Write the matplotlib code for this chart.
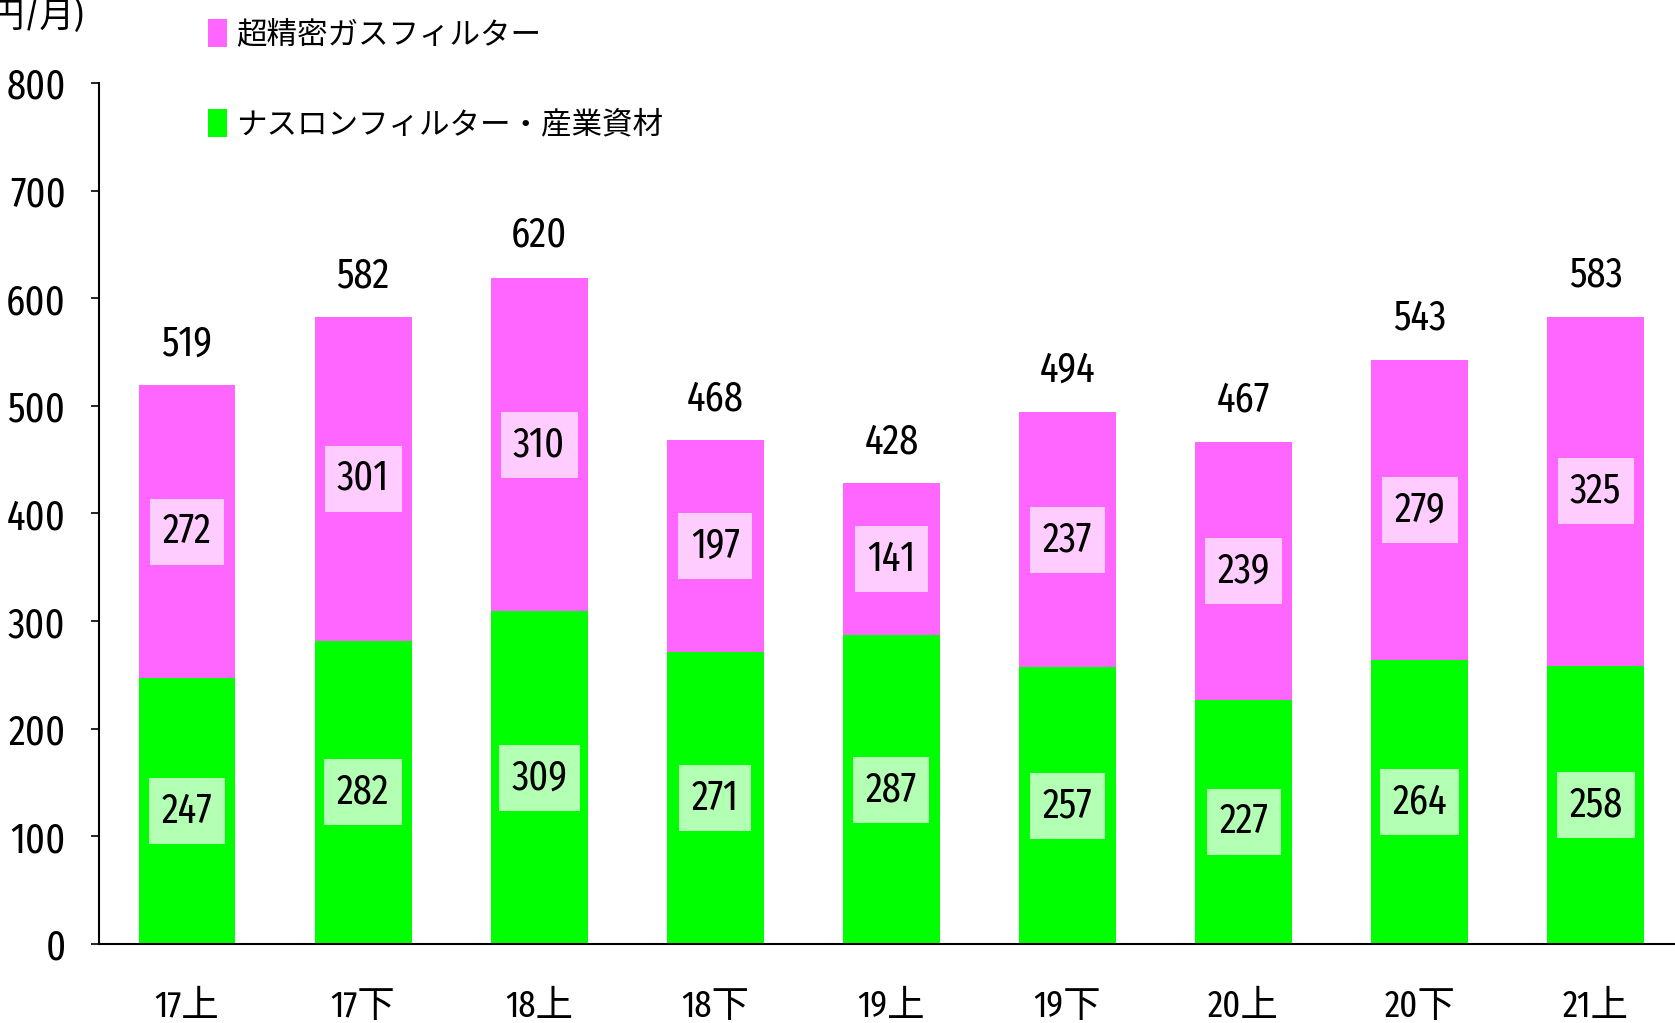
import matplotlib
matplotlib.use("Agg")
import matplotlib.pyplot as plt
from matplotlib import font_manager
import numpy as np

installed = {f.name for f in font_manager.fontManager.ttflist}
latin = next((n for n in ['Fira Sans Extra Condensed', 'Roboto Condensed', 'Barlow Condensed',
                          'Archivo Narrow', 'Liberation Sans'] if n in installed), 'DejaVu Sans')
plt.rcParams['font.family'] = [latin, 'Noto Sans CJK JP', 'DejaVu Sans']

categories = ["17上", "17下", "18上", "18下", "19上", "19下", "20上", "20下", "21上"]
nasuron = [247, 282, 309, 271, 287, 257, 227, 264, 258]
gas = [272, 301, 310, 197, 141, 237, 239, 279, 325]
totals = [519, 582, 620, 468, 428, 494, 467, 543, 583]
series_names = ["超精密ガスフィルター", "ナスロンフィルター・産業資材"]
yticks = [0, 100, 200, 300, 400, 500, 600, 700, 800]

green = "#00FF00"
pink = "#FF66FF"

fig = plt.figure(figsize=(16.75, 10.23), dpi=100)
ax = fig.add_axes([0.0591, 0.0772, 0.9409, 0.8417])

x = np.arange(len(categories))
w = 0.55
b1 = ax.bar(x, nasuron, w, color=green, label=series_names[1], zorder=2)
b2 = ax.bar(x, gas, w, bottom=nasuron, color=pink, label=series_names[0], zorder=2)

fs = 30
for i in range(len(x)):
    ax.text(x[i], nasuron[i] / 2, str(nasuron[i]), ha='center', va='center', fontsize=fs,
            bbox=dict(boxstyle='square,pad=0.3', fc='#B3FFB3', ec='none'), zorder=3)
    ax.text(x[i], nasuron[i] + gas[i] / 2, str(gas[i]), ha='center', va='center', fontsize=fs,
            bbox=dict(boxstyle='square,pad=0.3', fc='#FFCCFF', ec='none'), zorder=3)
    ax.annotate(str(totals[i]), (x[i], totals[i]), xytext=(0, 30), textcoords='offset points',
                ha='center', va='center', fontsize=fs)

ax.set_xlim(-0.5, 8.45)
ax.set_ylim(0, 800)
ax.set_yticks(yticks)
ax.set_xticks(x)
ax.set_xticklabels(categories, fontsize=27)
ax.tick_params(axis='x', length=0, pad=32)
ax.tick_params(axis='y', direction='out', length=6, width=1.2, pad=18, labelsize=fs)
for s in ['top', 'right']:
    ax.spines[s].set_visible(False)
for s in ['left', 'bottom']:
    ax.spines[s].set_linewidth(1.5)

fig.text(0.05, 0.984, "(百万円/月)", ha='right', va='center', fontsize=25)

leg = fig.legend(handles=[b2, b1], labels=series_names, loc='upper left',
                 bbox_to_anchor=(0.108, 1.008), frameon=False, fontsize=22,
                 handlelength=0.6, handleheight=1.0, handletextpad=0.3,
                 labelspacing=1.95)

fig.savefig("out.png", dpi=100)
